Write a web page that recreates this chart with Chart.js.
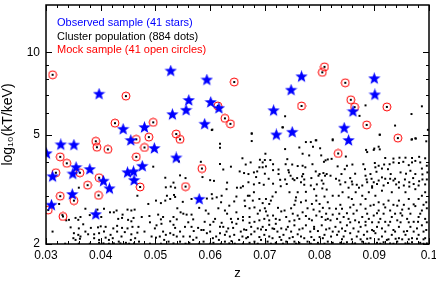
<!DOCTYPE html>
<html>
<head>
<meta charset="utf-8">
<script src="https://cdn.jsdelivr.net/npm/chart.js@4"></script>
<style>
  html, body { margin: 0; padding: 0; background: #fff; }
  #wrap { width: 436px; height: 281px; }
</style>
</head>
<body>
<div id="wrap"><canvas id="myChart" width="436" height="281"></canvas></div>
<script>
// observed sample (blue stars): redshift and temperature in keV
var starZ  = [0.0397, 0.0528, 0.0594, 0.0601, 0.0561, 0.0556, 0.0531, 0.0441, 0.0480, 0.0590,
              0.0455, 0.0767, 0.0748, 0.0900, 0.0901, 0.0861, 0.0716, 0.0616, 0.0845, 0.0721,
              0.0750, 0.0853, 0.0301, 0.0327, 0.0351, 0.0498, 0.0355, 0.0349, 0.0312, 0.0380,
              0.0449, 0.0460, 0.0476, 0.0538, 0.0405, 0.0461, 0.0416, 0.0348, 0.0310, 0.0391,
              0.0580];
var starKT = [7.04, 8.55, 7.93, 6.57, 6.68, 6.15, 5.93, 5.24, 5.32, 5.47,
              4.77, 8.15, 7.28, 8.02, 7.00, 6.08, 6.13, 6.25, 5.29, 5.00,
              5.11, 4.77, 4.27, 4.60, 4.59, 4.46, 3.80, 3.60, 3.52, 3.74,
              3.64, 3.67, 3.84, 4.12, 3.39, 3.41, 3.18, 3.03, 2.77, 2.56,
              2.91];

// mock sample (red open circles)
var mockZ  = [0.0312, 0.0446, 0.0426, 0.0496, 0.0614, 0.0538, 0.0545, 0.0488, 0.0465, 0.0391,
              0.0809, 0.0805, 0.0644, 0.0847, 0.0857, 0.0864, 0.0923, 0.0767, 0.0627, 0.0637,
              0.0886, 0.0943, 0.0393, 0.0413, 0.0480, 0.0465, 0.0326, 0.0338, 0.0362, 0.0318,
              0.0585, 0.0397, 0.0376, 0.0472, 0.0555, 0.0326, 0.0396, 0.0351, 0.0304, 0.0331,
              0.0834];
var mockKT = [8.29, 6.93, 5.52, 5.56, 6.38, 5.04, 4.82, 4.91, 4.82, 4.74,
              8.86, 8.46, 7.80, 7.75, 6.72, 6.32, 6.33, 6.38, 5.75, 5.49,
              5.44, 4.87, 4.51, 4.43, 4.50, 4.16, 4.16, 3.94, 3.64, 3.64,
              3.77, 3.49, 3.28, 3.23, 3.24, 2.99, 3.01, 2.88, 2.66, 2.52,
              4.28];

// cluster population (black dots), [z, kT]
var clusterDots = [
  [0.0603,5.21],[0.0618,4.64],[0.0618,4.49],[0.0496,3.83],[0.0583,3.99],[0.0618,3.92],[0.0624,3.74],
  [0.0638,3.83],[0.0518,3.49],[0.0545,3.56],[0.0555,3.48],[0.0586,3.51],[0.0600,3.42],[0.0607,3.40],
  [0.0631,3.35],[0.0533,3.35],[0.0519,3.22],[0.0528,3.24],[0.0536,3.21],[0.0543,4.00],[0.0649,3.21],
  [0.0737,5.85],[0.0733,5.33],[0.0884,6.41],[0.0873,5.87],[0.0938,5.41],[0.0968,5.96],[0.0987,6.36],
  [0.0910,5.01],[0.0969,4.82],[0.0975,4.86],[0.0676,5.05],[0.0794,4.78],[0.0824,4.82],[0.0604,5.23],
  [0.0998,5.22],[0.0360,3.21],
  [0.0676,5.07],[0.0676,4.75],[0.0732,5.33],[0.0737,4.44],[0.0775,4.71],[0.0784,4.71],[0.0793,4.78],
  [0.0788,4.53],[0.0824,4.78],[0.0801,4.47],[0.0763,4.50],[0.0769,4.27],[0.0781,4.21],[0.0803,4.21],
  [0.0701,4.27],[0.0659,4.11],[0.0674,3.97],[0.0691,4.06],[0.0700,4.05],[0.0710,4.05],[0.0696,3.97],
  [0.0741,4.08],[0.0815,4.07],[0.0822,4.09],[0.0808,3.99],[0.0811,4.04],[0.0738,3.91],[0.0760,3.85],
  [0.0769,3.86],[0.0774,3.81],[0.0787,3.91],[0.0690,3.81],[0.0696,3.81],[0.0702,3.84],[0.0725,3.74],
  [0.0743,3.72],[0.0744,3.65],[0.0654,3.68],[0.0662,3.63],[0.0680,3.65],[0.0686,3.68],[0.0715,3.72],
  [0.0793,3.68],[0.0800,3.60],[0.0798,3.55],[0.0807,3.63],[0.0810,3.55],[0.0820,3.55],[0.0813,3.60],
  [0.0747,3.55],[0.0751,3.46],[0.0737,3.44],[0.0759,3.48],[0.0768,3.53],[0.0772,3.44],[0.0785,3.48],
  [0.0684,3.51],[0.0707,3.46],[0.0728,3.43],[0.0754,3.42],[0.0766,3.36],[0.0670,3.36],[0.0690,3.34],
  [0.0698,3.29],[0.0715,3.32],[0.0729,3.25],[0.0660,3.25],[0.0772,3.29],[0.0784,3.27],[0.0804,3.41],
  [0.0807,3.32],
  [0.0910,5.01],[0.0968,4.81],[0.0976,4.85],[0.0995,4.74],[0.0885,4.41],[0.0887,4.33],[0.0899,4.41],
  [0.0900,4.46],[0.0908,4.53],[0.0910,4.43],[0.0920,4.12],[0.0935,4.10],[0.0946,4.13],[0.0957,4.13],
  [0.0969,4.12],[0.0982,4.16],[0.0993,4.11],[0.0848,4.17],[0.0833,3.84],[0.0850,3.86],[0.0846,3.75],
  [0.0883,3.75],[0.0901,3.95],[0.0902,3.81],[0.0908,3.86],[0.0914,3.77],[0.0904,3.67],[0.0925,3.75],
  [0.0928,3.91],[0.0935,3.97],[0.0945,3.95],[0.0953,3.99],[0.0963,3.88],[0.0969,3.97],[0.0975,4.02],
  [0.0984,3.97],[0.0987,3.77],[0.0996,3.86],[0.0948,3.65],[0.0966,3.70],[0.0975,3.60],[0.0988,3.59],
  [0.0997,3.65],[0.0830,3.46],[0.0836,3.41],[0.0856,3.48],[0.0859,3.38],[0.0884,3.55],[0.0886,3.44],
  [0.0887,3.36],[0.0895,3.46],[0.0899,3.36],[0.0908,3.41],[0.0914,3.50],[0.0920,3.46],[0.0925,3.34],
  [0.0929,3.46],[0.0935,3.41],[0.0938,3.46],[0.0945,3.36],[0.0956,3.44],[0.0964,3.36],[0.0971,3.48],
  [0.0982,3.39],[0.0988,3.44],[0.0996,3.44],[0.0847,3.36],[0.0868,3.29],[0.0878,3.27],[0.0896,3.25],
  [0.0917,3.27],[0.0954,3.27],[0.0964,3.24],[0.0981,3.27],
  [0.0324,2.80],[0.0372,2.69],[0.0394,2.67],[0.0406,2.69],[0.0417,2.61],[0.0424,2.61],[0.0429,2.65],
  [0.0449,2.67],[0.0456,2.65],[0.0462,2.67],[0.0467,3.00],[0.0354,2.49],[0.0342,2.45],[0.0337,2.44],
  [0.0359,2.45],[0.0363,2.51],[0.0401,2.51],[0.0432,2.47],[0.0439,2.49],[0.0450,2.45],[0.0456,2.42],
  [0.0460,2.49],[0.0368,2.36],[0.0360,2.28],[0.0382,2.29],[0.0400,2.32],[0.0409,2.31],[0.0423,2.28],
  [0.0430,2.33],[0.0439,2.29],[0.0449,2.28],[0.0469,2.31],[0.0312,2.22],[0.0351,2.19],[0.0359,2.16],
  [0.0363,2.13],[0.0372,2.22],[0.0377,2.17],[0.0388,2.17],[0.0397,2.19],[0.0406,2.22],[0.0418,2.16],
  [0.0422,2.10],[0.0430,2.22],[0.0438,2.13],[0.0444,2.21],[0.0456,2.17],[0.0467,2.20],[0.0350,2.10],
  [0.0354,2.07],[0.0362,2.09],[0.0388,2.10],[0.0397,2.07],[0.0409,2.11],[0.0415,2.07],[0.0433,2.04],
  [0.0455,2.07],[0.0463,2.10],[0.0397,2.02],[0.0405,2.01],[0.0424,2.01],[0.0436,2.01],[0.0446,2.02],
  [0.0461,2.01],[0.0470,2.04],
  [0.0521,3.00],[0.0534,3.02],[0.0527,2.92],[0.0536,2.97],[0.0518,2.88],[0.0510,2.82],[0.0501,2.88],
  [0.0487,2.80],[0.0550,2.85],[0.0566,2.92],[0.0594,2.93],[0.0603,3.04],[0.0604,2.93],[0.0612,2.96],
  [0.0621,3.00],[0.0630,3.17],[0.0620,2.84],[0.0635,2.76],[0.0648,2.98],[0.0644,2.86],[0.0475,2.51],
  [0.0489,2.53],[0.0505,2.56],[0.0510,2.46],[0.0514,2.51],[0.0533,2.51],[0.0539,2.46],[0.0546,2.61],
  [0.0551,2.58],[0.0557,2.56],[0.0566,2.56],[0.0569,2.46],[0.0592,2.65],[0.0597,2.58],[0.0609,2.47],
  [0.0627,2.65],[0.0631,2.58],[0.0638,2.47],[0.0648,2.61],[0.0511,2.37],[0.0502,2.34],[0.0499,2.28],
  [0.0527,2.42],[0.0533,2.35],[0.0536,2.29],[0.0554,2.31],[0.0566,2.31],[0.0578,2.29],[0.0584,2.25],
  [0.0588,2.25],[0.0600,2.35],[0.0606,2.41],[0.0621,2.39],[0.0618,2.31],[0.0624,2.31],[0.0633,2.28],
  [0.0642,2.29],[0.0648,2.37],[0.0514,2.22],[0.0519,2.16],[0.0508,2.13],[0.0493,2.13],[0.0501,2.11],
  [0.0527,2.19],[0.0533,2.16],[0.0539,2.13],[0.0551,2.13],[0.0563,2.13],[0.0575,2.11],[0.0594,2.19],
  [0.0605,2.10],[0.0611,2.13],[0.0618,2.19],[0.0627,2.16],[0.0636,2.13],[0.0644,2.16],[0.0516,2.07],
  [0.0524,2.04],[0.0533,2.01],[0.0545,2.04],[0.0562,2.02],[0.0569,2.07],[0.0588,2.04],[0.0606,2.02],
  [0.0616,2.07],[0.0627,2.04],[0.0635,2.01],[0.0639,2.05],
  [0.0656,3.21],[0.0669,3.00],[0.0672,3.00],[0.0663,2.88],[0.0664,2.75],[0.0678,2.88],[0.0681,2.72],
  [0.0690,2.92],[0.0696,2.82],[0.0702,2.92],[0.0708,2.80],[0.0714,2.98],[0.0711,2.88],[0.0745,3.09],
  [0.0757,2.96],[0.0756,2.88],[0.0760,3.09],[0.0790,3.17],[0.0794,3.00],[0.0805,3.19],[0.0813,3.16],
  [0.0809,2.98],[0.0794,2.88],[0.0786,2.80],[0.0775,2.88],[0.0766,2.84],[0.0754,2.78],[0.0800,2.80],
  [0.0815,2.84],[0.0824,3.00],[0.0651,2.47],[0.0660,2.51],[0.0672,2.51],[0.0672,2.39],[0.0681,2.41],
  [0.0675,2.31],[0.0687,2.58],[0.0691,2.65],[0.0702,2.63],[0.0705,2.54],[0.0699,2.47],[0.0708,2.44],
  [0.0715,2.54],[0.0720,2.47],[0.0730,2.63],[0.0736,2.65],[0.0739,2.51],[0.0745,2.42],[0.0751,2.58],
  [0.0760,2.54],[0.0763,2.47],[0.0769,2.61],[0.0775,2.53],[0.0781,2.47],[0.0789,2.67],[0.0794,2.54],
  [0.0800,2.63],[0.0804,2.51],[0.0812,2.58],[0.0815,2.47],[0.0824,2.56],[0.0820,2.44],[0.0656,2.22],
  [0.0659,2.13],[0.0666,2.25],[0.0675,2.17],[0.0681,2.22],[0.0687,2.28],[0.0696,2.31],[0.0702,2.25],
  [0.0708,2.35],[0.0714,2.28],[0.0720,2.37],[0.0723,2.22],[0.0730,2.28],[0.0734,2.16],[0.0742,2.31],
  [0.0748,2.22],[0.0754,2.34],[0.0760,2.17],[0.0769,2.28],[0.0775,2.34],[0.0783,2.22],[0.0790,2.31],
  [0.0797,2.23],[0.0804,2.34],[0.0809,2.16],[0.0818,2.28],[0.0824,2.22],[0.0653,2.07],[0.0666,2.10],
  [0.0672,2.02],[0.0681,2.04],[0.0693,2.07],[0.0699,2.16],[0.0705,2.04],[0.0714,2.10],[0.0720,2.02],
  [0.0730,2.07],[0.0739,2.04],[0.0745,2.10],[0.0754,2.04],[0.0763,2.02],[0.0772,2.10],[0.0778,2.04],
  [0.0790,2.07],[0.0797,2.02],[0.0806,2.10],[0.0815,2.04],[0.0824,2.02],
  [0.0853,3.21],[0.0872,3.21],[0.0896,3.21],[0.0914,3.13],[0.0945,3.21],[0.0975,3.17],[0.0987,3.00],
  [0.0835,3.00],[0.0853,2.96],[0.0859,2.92],[0.0878,3.00],[0.0884,2.92],[0.0902,3.00],[0.0908,2.84],
  [0.0926,2.88],[0.0945,2.88],[0.0963,2.92],[0.0981,2.92],[0.0995,2.84],[0.0830,2.69],[0.0841,2.69],
  [0.0856,2.72],[0.0868,2.65],[0.0884,2.69],[0.0893,2.76],[0.0908,2.65],[0.0920,2.72],[0.0929,2.65],
  [0.0942,2.76],[0.0951,2.67],[0.0963,2.69],[0.0975,2.75],[0.0987,2.65],[0.0996,2.70],[0.0832,2.47],
  [0.0844,2.51],[0.0853,2.47],[0.0865,2.44],[0.0878,2.51],[0.0890,2.47],[0.0899,2.54],[0.0911,2.47],
  [0.0920,2.41],[0.0932,2.51],[0.0942,2.44],[0.0951,2.54],[0.0960,2.47],[0.0972,2.41],[0.0981,2.51],
  [0.0993,2.47],[0.0829,2.31],[0.0841,2.28],[0.0850,2.34],[0.0862,2.28],[0.0875,2.31],[0.0884,2.34],
  [0.0896,2.25],[0.0905,2.31],[0.0914,2.28],[0.0926,2.34],[0.0935,2.25],[0.0945,2.31],[0.0954,2.22],
  [0.0966,2.31],[0.0978,2.28],[0.0987,2.34],[0.0995,2.25],[0.0832,2.16],[0.0844,2.13],[0.0856,2.19],
  [0.0868,2.13],[0.0881,2.16],[0.0893,2.10],[0.0902,2.19],[0.0914,2.13],[0.0923,2.07],[0.0932,2.16],
  [0.0945,2.10],[0.0957,2.16],[0.0969,2.10],[0.0981,2.16],[0.0993,2.10],[0.0838,2.02],[0.0850,2.03],
  [0.0865,2.01],[0.0878,2.04],[0.0890,2.01],[0.0905,2.02],[0.0917,2.03],[0.0929,2.01],[0.0942,2.04],
  [0.0957,2.01],[0.0969,2.03],[0.0984,2.02],[0.0996,2.01],
  [0.0842,3.09],[0.0866,3.09],[0.0890,3.09],[0.0932,3.09],[0.0957,3.09],[0.0993,3.09],
  [0.0838,2.78],[0.0862,2.78],[0.0875,2.79],[0.0899,2.78],[0.0917,2.79],[0.0935,2.78],[0.0954,2.78],
  [0.0972,2.79],[0.0990,2.78],[0.0836,2.58],[0.0850,2.59],[0.0862,2.58],[0.0887,2.58],[0.0905,2.59],
  [0.0917,2.58],[0.0938,2.58],[0.0948,2.59],[0.0966,2.58],[0.0984,2.58],[0.0838,2.40],[0.0856,2.40],
  [0.0872,2.40],[0.0884,2.41],[0.0896,2.40],[0.0908,2.40],[0.0929,2.41],[0.0948,2.40],[0.0963,2.40],
  [0.0980,2.41],[0.0996,2.40],[0.0835,2.22],[0.0847,2.23],[0.0871,2.22],[0.0887,2.22],[0.0899,2.23],
  [0.0920,2.22],[0.0938,2.22],[0.0960,2.23],[0.0972,2.22],[0.0990,2.22],[0.0841,2.08],[0.0859,2.08],
  [0.0875,2.08],[0.0887,2.09],[0.0908,2.08],[0.0926,2.08],[0.0939,2.09],[0.0951,2.08],[0.0963,2.08],
  [0.0978,2.09],[0.0990,2.08],[0.0844,2.005],[0.0860,2.005],[0.0884,2.005],[0.0911,2.005],
  [0.0935,2.005],[0.0963,2.005],[0.0990,2.005],
  [0.0680,3.09],[0.0720,3.09],[0.0775,3.10],[0.0672,2.70],[0.0700,2.70],[0.0724,2.71],[0.0748,2.70],
  [0.0778,2.70],[0.0806,2.71],[0.0818,2.70],[0.0660,2.44],[0.0690,2.44],[0.0727,2.45],[0.0754,2.44],
  [0.0786,2.44],[0.0811,2.45],[0.0662,2.26],[0.0693,2.26],[0.0717,2.27],[0.0739,2.26],[0.0763,2.26],
  [0.0790,2.27],[0.0812,2.26],[0.0669,2.12],[0.0690,2.12],[0.0708,2.13],[0.0727,2.12],[0.0751,2.12],
  [0.0766,2.13],[0.0785,2.12],[0.0800,2.12],[0.0821,2.13],[0.0660,2.005],[0.0687,2.005],[0.0711,2.005],
  [0.0733,2.005],[0.0757,2.005],[0.0784,2.005],[0.0809,2.005],
  [0.0540,2.70],[0.0580,2.71],[0.0615,2.70],[0.0490,2.40],[0.0560,2.40],[0.0590,2.41],[0.0640,2.40],
  [0.0480,2.22],[0.0545,2.22],[0.0570,2.23],[0.0600,2.22],[0.0630,2.22],[0.0490,2.005],[0.0510,2.005],
  [0.0555,2.005],[0.0580,2.005],[0.0600,2.005],[0.0620,2.005],[0.0645,2.005],
  [0.0335,2.005],[0.0360,2.005],[0.0380,2.005],[0.0415,2.005],[0.0452,2.005],[0.0345,2.30],
  [0.0395,2.30],[0.0458,2.31],[0.0330,2.55],[0.0380,2.55],[0.0440,2.56],
  [0.0840,3.60],[0.0865,3.61],[0.0893,3.60],[0.0930,3.60],[0.0958,3.61],[0.0860,3.90],[0.0880,3.91],
  [0.0918,3.90],[0.0838,3.30],[0.0860,3.30],[0.0905,3.31],[0.0940,3.30],[0.0972,3.31],[0.0993,3.30],
  [0.0670,3.60],[0.0700,3.61],[0.0725,3.60],[0.0770,3.60],[0.0665,3.90],[0.0715,3.91],[0.0750,3.90],
  [0.0680,3.30],[0.0740,3.31],[0.0795,3.30]
];

// axis ticks
var zTicks = [0.03, 0.04, 0.05, 0.06, 0.07, 0.08, 0.09, 0.1];
var ktLabelled = [2, 5, 10];
var ktMinor = [3, 4, 6, 7, 8, 9];

var legendLines = [
  ['Observed sample (41 stars)', '#0000ff'],
  ['Cluster population (884 dots)', '#000000'],
  ['Mock sample (41 open circles)', '#ff0000']
];

function makeStar(size, color) {
  var c = document.createElement('canvas');
  c.width = size; c.height = size;
  var g = c.getContext('2d');
  var r = size / 2, ri = r * 0.42;
  g.beginPath();
  for (var i = 0; i < 10; i++) {
    var rad = i % 2 ? ri : r;
    var a = -Math.PI / 2 + i * Math.PI / 5;
    g.lineTo(r + rad * Math.cos(a), r + rad * Math.sin(a));
  }
  g.closePath();
  g.fillStyle = color;
  g.fill();
  return c;
}

function makeRing(size, color) {
  var c = document.createElement('canvas');
  c.width = size; c.height = size;
  var g = c.getContext('2d');
  g.beginPath();
  g.arc(size / 2, size / 2, size / 2 - 1, 0, Math.PI * 2);
  g.strokeStyle = color;
  g.lineWidth = 1;
  g.stroke();
  g.fillStyle = '#000';
  g.fillRect(size / 2 - 1, size / 2 - 1, 2, 2);
  return c;
}

function pairs(xs, ys) {
  return xs.map(function (v, i) { return { x: v, y: ys[i] }; });
}

// no automatic padding for edge labels, the plot box is placed by hand
function fixBox(size) {
  return function (s) {
    if (s.isHorizontal()) s.height = size; else s.width = size;
    s.paddingTop = s.paddingBottom = s.paddingLeft = s.paddingRight = 0;
  };
}

// inward ticks on all four sides plus the frame, IDL style
var frameTicks = {
  id: 'frameTicks',
  afterDraw: function (chart) {
    var ctx = chart.ctx, a = chart.chartArea;
    var xs = chart.scales.x, ys = chart.scales.y;
    ctx.save();
    ctx.strokeStyle = '#000';
    ctx.lineWidth = 1;
    ctx.beginPath();
    for (var i = 0; i <= 35; i++) {
      var px = Math.round(xs.getPixelForValue(0.03 + i * 0.002)) + 0.5;
      var len = (i % 5 === 0) ? 6 : 3;
      ctx.moveTo(px, a.bottom); ctx.lineTo(px, a.bottom - len);
      ctx.moveTo(px, a.top); ctx.lineTo(px, a.top + len);
    }
    ktLabelled.concat(ktMinor).forEach(function (v) {
      var py = Math.round(ys.getPixelForValue(v)) + 0.5;
      var len = ktLabelled.indexOf(v) >= 0 ? 6 : 3;
      ctx.moveTo(a.left, py); ctx.lineTo(a.left + len, py);
      ctx.moveTo(a.right, py); ctx.lineTo(a.right - len, py);
    });
    ctx.stroke();
    ctx.lineWidth = 1.5;
    ctx.strokeRect(a.left, a.top, a.right - a.left, a.bottom - a.top);

    ctx.font = '11px "Liberation Sans", Arial, sans-serif';
    ctx.textBaseline = 'alphabetic';
    legendLines.forEach(function (l, k) {
      ctx.fillStyle = l[1];
      ctx.fillText(l[0], a.left + 11, a.top + 21 + k * 13.5);
    });
    ctx.restore();
  }
};

var ctx = document.getElementById('myChart').getContext('2d');
new Chart(ctx, {
  type: 'scatter',
  data: {
    datasets: [{
      label: 'Observed sample',
      data: pairs(starZ, starKT),
      pointStyle: makeStar(13, '#0000ff'),
      order: 1
    }, {
      label: 'Mock sample',
      data: pairs(mockZ, mockKT),
      pointStyle: makeRing(10, '#ff0000'),
      order: 2
    }, {
      label: 'Cluster population',
      data: clusterDots.map(function (p) { return { x: p[0], y: p[1] }; }),
      pointStyle: 'rect',
      radius: 1.4,
      borderWidth: 0,
      backgroundColor: '#000',
      order: 3
    }]
  },
  options: {
    responsive: false,
    animation: false,
    devicePixelRatio: 1,
    layout: { padding: { top: 2, right: 7, left: 0, bottom: 0 } },
    plugins: { legend: { display: false }, tooltip: { enabled: false } },
    scales: {
      x: {
        type: 'linear',
        min: 0.03, max: 0.1,
        afterBuildTicks: function (s) { s.ticks = zTicks.map(function (v) { return { value: v }; }); },
        afterFit: fixBox(37),
        grid: { display: false, drawTicks: false },
        border: { display: false },
        ticks: {
          padding: 4,
          color: '#000',
          font: { family: '"Liberation Sans", Arial, sans-serif', size: 12 },
          callback: function (v) { return String(parseFloat(v.toFixed(2))); }
        },
        title: {
          display: true, text: 'z', color: '#000',
          font: { family: '"Liberation Sans", Arial, sans-serif', size: 13 },
          padding: { top: 4, bottom: 0 }
        }
      },
      y: {
        type: 'logarithmic',
        min: 2, max: 14.9,
        afterBuildTicks: function (s) { s.ticks = ktLabelled.map(function (v) { return { value: v }; }); },
        afterFit: fixBox(46),
        grid: { display: false, drawTicks: false },
        border: { display: false },
        ticks: {
          padding: 6,
          color: '#000',
          font: { family: '"Liberation Sans", Arial, sans-serif', size: 12 },
          callback: function (v) { return String(v); }
        },
        title: {
          display: true, text: 'log\u2081\u2080(kT/keV)', color: '#000',
          font: { family: '"Liberation Sans", Arial, sans-serif', size: 14 },
          padding: { top: 0, bottom: 2 }
        }
      }
    }
  },
  plugins: [frameTicks]
});
</script>
</body>
</html>
